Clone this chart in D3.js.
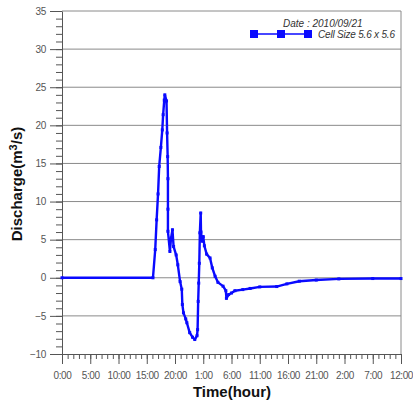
<!DOCTYPE html>
<html>
<head>
<meta charset="utf-8">
<script src="https://cdn.jsdelivr.net/npm/d3@7"></script>
<style>
  body { margin: 0; background: #fff; }
  svg { display: block; font-family: Arial, "Liberation Sans", sans-serif; }
</style>
</head>
<body>
<div id="chart"></div>
<script>
const margin = {top: 11, right: 12, bottom: 49, left: 62},
      width = 413 - margin.left - margin.right,
      height = 403 - margin.top - margin.bottom;

// hours since 0:00 of day one
const hours = [0, 16.1, 16.5, 16.75, 17.0, 17.2, 17.5, 17.75, 17.9, 18.1, 18.2, 18.5, 18.6, 18.7,
  18.75, 18.75, 18.75, 19.1, 19.3, 19.55, 19.75, 20.2, 20.5, 20.9, 21.2, 21.3, 21.5, 21.9, 22.1,
  22.6, 23.1, 23.5, 23.9, 24.0, 24.1, 24.2, 24.3, 24.4, 24.55, 24.6, 24.8, 25.0, 25.2, 25.6, 26.2,
  26.6, 27.1, 27.6, 28.5, 29.0, 29.1, 29.5, 30, 30.6, 32, 33.3, 35, 38, 39.8, 42, 45, 49, 55, 60];
const discharge = [0, 0, 3.7, 7.6, 11, 14.6, 17.1, 19.4, 21.4, 23.3, 24.0, 23.2, 19, 15.9,
  13, 9, 6.1, 3.45, 5.2, 6.3, 4.1, 3.0, 1.7, -0.5, -1.5, -3.5, -4.6, -5.4, -5.9,
  -7.2, -7.8, -8.1, -7.6, -6.8, -3.1, -0.7, 1.9, 5.9, 8.5, 6.0, 4.8, 5.4, 4.2, 3.1, 2.6,
  1.3, 0.2, -0.6, -1.1, -1.7, -2.7, -2.2, -2.0, -1.7, -1.55, -1.4, -1.2, -1.15, -0.8, -0.45, -0.3, -0.15, -0.1, -0.1];

const xTickLabels = ["0:00", "5:00", "10:00", "15:00", "20:00", "1:00", "6:00",
                     "11:00", "16:00", "21:00", "2:00", "7:00", "12:00"];
const yTicks = [-10, -5, 0, 5, 10, 15, 20, 25, 30, 35];

const legendDate = "Date : 2010/09/21";
const legendSeries = "Cell Size 5.6 x 5.6";

const data = hours.map((h, i) => ({h: h, v: discharge[i]}));

const svg = d3.select("#chart")
  .append("svg")
  .attr("width", width + margin.left + margin.right)
  .attr("height", height + margin.top + margin.bottom);

const g = svg.append("g")
  .attr("transform", `translate(${margin.left},${margin.top})`);

const x = d3.scaleLinear().domain([0, 60]).range([0, width]);
const y = d3.scaleLinear().domain([-10, 35]).range([height, 0]);

// horizontal grid
g.selectAll("line.grid")
  .data(yTicks.slice(1))
  .join("line")
  .attr("class", "grid")
  .attr("x1", 0).attr("x2", width)
  .attr("y1", d => y(d)).attr("y2", d => y(d))
  .attr("stroke", "#8a8a8a")
  .attr("stroke-width", 1);

// right border
g.append("line")
  .attr("x1", width).attr("x2", width)
  .attr("y1", 0).attr("y2", height)
  .attr("stroke", "#8a8a8a");

// y axis minor ticks
g.append("g")
  .call(d3.axisLeft(y).tickValues(d3.range(-10, 36, 1)).tickSize(6).tickFormat(""))
  .call(a => a.select(".domain").remove())
  .selectAll("line").attr("stroke", "#555");

// y axis major
const yAxis = g.append("g")
  .call(d3.axisLeft(y).tickValues(yTicks).tickSize(12).tickSizeOuter(0).tickPadding(4));
yAxis.select(".domain").attr("stroke", "#555");
yAxis.selectAll("line").attr("stroke", "#555");
yAxis.selectAll("text").attr("fill", "#555")
  .style("font-size", "10px").style("letter-spacing", "-0.3px");

// x axis minor ticks
g.append("g")
  .attr("transform", `translate(0,${height})`)
  .call(d3.axisBottom(x).tickValues(d3.range(0, 61, 1)).tickSize(5).tickFormat(""))
  .call(a => a.select(".domain").remove())
  .selectAll("line").attr("stroke", "#555");

// x axis major
const xAxis = g.append("g")
  .attr("transform", `translate(0,${height})`)
  .call(d3.axisBottom(x).tickValues(d3.range(0, 61, 5)).tickSize(10).tickSizeOuter(0)
    .tickPadding(8).tickFormat((d, i) => xTickLabels[i]));
xAxis.select(".domain").attr("stroke", "#555");
xAxis.selectAll("line").attr("stroke", "#555");
xAxis.selectAll("text").attr("fill", "#555")
  .style("font-size", "10px").style("letter-spacing", "-0.4px");

// series
const line = d3.line().x(d => x(d.h)).y(d => y(d.v));
g.append("path")
  .datum(data)
  .attr("fill", "none")
  .attr("stroke", "#0a0aff")
  .attr("stroke-width", 2.4)
  .attr("stroke-linejoin", "round")
  .attr("d", line);

g.selectAll("rect.pt")
  .data(data)
  .join("rect")
  .attr("class", "pt")
  .attr("x", d => x(d.h) - 1.5)
  .attr("y", d => y(d.v) - 1.5)
  .attr("width", 3).attr("height", 3)
  .attr("fill", "#0a0aff");

// axis titles
const yTitle = svg.append("text")
  .attr("text-anchor", "middle")
  .attr("transform", `translate(22,184) rotate(-90)`)
  .style("font-size", "15px")
  .style("font-weight", "bold")
  .attr("fill", "#111");
yTitle.append("tspan").text("Discharge(m");
yTitle.append("tspan").attr("dy", -5).style("font-size", "11px").text("3");
yTitle.append("tspan").attr("dy", 5).text("/s)");

svg.append("text")
  .attr("text-anchor", "middle")
  .attr("x", 232).attr("y", 397)
  .style("font-size", "15px")
  .style("font-weight", "bold")
  .attr("fill", "#111")
  .text("Time(hour)");

// legend
svg.append("text")
  .attr("x", 283).attr("y", 27)
  .style("font-size", "10px")
  .style("font-style", "italic")
  .attr("fill", "#333")
  .text(legendDate);

svg.append("line")
  .attr("x1", 254).attr("x2", 308)
  .attr("y1", 34).attr("y2", 34)
  .attr("stroke", "#0a0aff").attr("stroke-width", 1.5);
svg.selectAll("rect.leg")
  .data([254, 281, 308])
  .join("rect")
  .attr("class", "leg")
  .attr("x", d => d - 4).attr("y", 30)
  .attr("width", 8).attr("height", 8)
  .attr("fill", "#0a0aff");

svg.append("text")
  .attr("x", 318).attr("y", 38)
  .style("font-size", "10px")
  .style("font-style", "italic")
  .style("letter-spacing", "-0.2px")
  .attr("fill", "#333")
  .text(legendSeries);
</script>
</body>
</html>
